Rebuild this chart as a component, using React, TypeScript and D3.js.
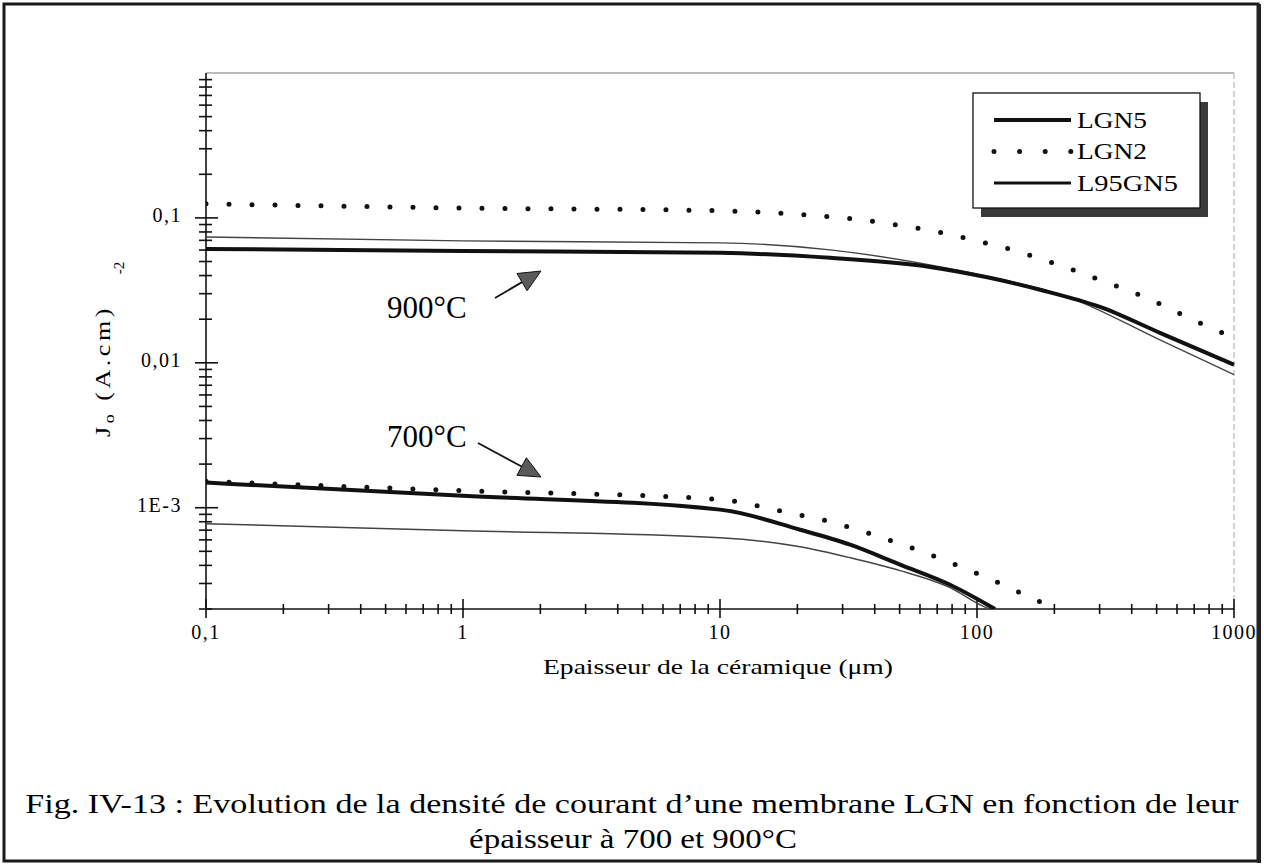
import * as d3 from "d3";
import { FC, useEffect, useRef } from "react";

const WIDTH = 1264;
const HEIGHT = 867;
const FONT = "'Liberation Serif', 'Times New Roman', serif";

// 900°C
const LGN5_900_X = [0.1, 1, 10, 26.8, 65.6, 112, 176, 301, 515, 1000];
const LGN5_900_Y = [0.0611, 0.0592, 0.0574, 0.053, 0.0459, 0.0386, 0.0319, 0.0243, 0.0161, 0.0097];
const L95GN5_900_X = [0.1, 1, 10, 26.8, 65.6, 112, 230, 515, 1000];
const L95GN5_900_Y = [0.0739, 0.0694, 0.0673, 0.0602, 0.0474, 0.0392, 0.0281, 0.0144, 0.0083];
const LGN2_900_X = [0.1, 1, 10, 21.6, 32.6, 48.8, 73.8, 100, 137, 208, 315, 475, 718, 1000];
const LGN2_900_Y = [0.125, 0.117, 0.112, 0.105, 0.0985, 0.0895, 0.0788, 0.0694, 0.0602, 0.0474, 0.0362, 0.0272, 0.0192, 0.0149];

// 700°C
const LGN5_700_X = [0.1, 1, 10, 20.5, 32.1, 50.2, 78.5, 117.5];
const LGN5_700_Y = [1.49e-3, 1.21e-3, 9.7e-4, 7.05e-4, 5.56e-4, 4.05e-4, 2.94e-4, 2.0e-4];
const L95GN5_700_X = [0.1, 1, 10, 20.5, 32.1, 50.2, 78.5, 107, 113];
const L95GN5_700_Y = [7.76e-4, 6.94e-4, 6.21e-4, 5.38e-4, 4.52e-4, 3.68e-4, 2.81e-4, 2.07e-4, 2.0e-4];
const LGN2_700_X = [0.1, 1, 10, 17.7, 26.8, 40.5, 61.1, 92.3, 139, 171, 210];
const LGN2_700_Y = [1.52e-3, 1.31e-3, 1.14e-3, 9.38e-4, 8.0e-4, 6.41e-4, 4.97e-4, 3.73e-4, 2.72e-4, 2.29e-4, 2.0e-4];

const X_MAJOR = [0.1, 1, 10, 100, 1000];
const X_LABELS = ["0,1", "1", "10", "100", "1000"];
const Y_MAJOR = [0.1, 0.01, 0.001];
const Y_LABELS = ["0,1", "0,01", "1E-3"];
const LEGEND = ["LGN5", "LGN2", "L95GN5"];

type Kind = "thick" | "dots" | "thin";

// widen a text horizontally (the scan's font is a stretched Times)
// eslint-disable-next-line @typescript-eslint/no-explicit-any
const stretch = (sel: any, width: number, base = "") => {
  const node = sel.node() as SVGTextElement;
  const k = width / node.getComputedTextLength();
  if (base) {
    sel.attr("transform", `${base} scale(${k},1)`);
  } else {
    const x0 = +sel.attr("x");
    sel.attr("transform", `translate(${x0},0) scale(${k},1) translate(${-x0},0)`);
  }
};

const App: FC = () => {
  const svgRef = useRef<SVGSVGElement | null>(null);

  useEffect(() => {
    if (!svgRef.current) return;
    const svg = d3.select(svgRef.current);
    svg.selectAll("*").remove();

    const left = 206, right = 1234, top = 73, bottom = 609;
    const x = d3.scaleLog().domain([0.1, 1000]).range([left, right]);
    const y = d3.scaleLog().domain([2e-4, 1]).range([bottom, top]);

    // page frame
    svg.append("rect").attr("width", WIDTH).attr("height", HEIGHT).attr("fill", "#fff");
    svg
      .append("rect")
      .attr("x", 4).attr("y", 4).attr("width", 1254).attr("height", 857)
      .attr("fill", "none").attr("stroke", "#1a1a1a").attr("stroke-width", 3);
    svg.append("line").attr("x1", 1259).attr("x2", 1259).attr("y1", 4).attr("y2", 863)
      .attr("stroke", "#222").attr("stroke-width", 4);

    svg.append("defs").append("clipPath").attr("id", "plot-clip")
      .append("rect").attr("x", left).attr("y", top - 10)
      .attr("width", right - left + 2).attr("height", bottom - top + 10);

    // plot frame (faint top and right edges)
    svg.append("line").attr("x1", left).attr("x2", right).attr("y1", top).attr("y2", top)
      .attr("stroke", "#777").attr("stroke-width", 1);
    svg.append("line").attr("x1", right).attr("x2", right).attr("y1", top).attr("y2", bottom)
      .attr("stroke", "#aaa").attr("stroke-width", 1).attr("stroke-dasharray", "6 3");

    // axes
    const axisG = svg.append("g").attr("stroke", "#111").attr("stroke-width", 1.6);
    axisG.append("line").attr("x1", left).attr("x2", left).attr("y1", top).attr("y2", bottom);
    axisG.append("line").attr("x1", left).attr("x2", right).attr("y1", bottom).attr("y2", bottom);

    const isMajor = (v: number) => Math.abs(Math.log10(v) - Math.round(Math.log10(v))) < 1e-6;

    axisG.selectAll(".xt").data(x.ticks()).enter().append("line")
      .attr("x1", (d) => x(d)).attr("x2", (d) => x(d))
      .attr("y1", (d) => (isMajor(d) ? bottom - 10 : bottom - 5))
      .attr("y2", (d) => (isMajor(d) ? bottom + 9 : bottom + 5));

    axisG.selectAll(".yt").data(y.ticks().filter((d) => d < 0.999)).enter().append("line")
      .attr("y1", (d) => y(d)).attr("y2", (d) => y(d))
      .attr("x1", (d) => (isMajor(d) ? left - 11 : left - 7))
      .attr("x2", (d) => (isMajor(d) ? left + 12 : left + 6));

    // tick labels
    svg.append("g").selectAll("text").data(X_MAJOR).enter().append("text")
      .attr("x", (d) => x(d)).attr("y", bottom + 30)
      .attr("text-anchor", "middle").attr("font-family", FONT).attr("font-size", 20)
      .attr("letter-spacing", 1.5)
      .text((_, i) => X_LABELS[i]);

    svg.append("g").selectAll("text").data(Y_MAJOR).enter().append("text")
      .attr("x", left - 24).attr("y", (d) => y(d) + 4)
      .attr("text-anchor", "end").attr("font-family", FONT).attr("font-size", 20)
      .attr("letter-spacing", 1.5)
      .text((_, i) => Y_LABELS[i]);

    // axis titles
    const xt = svg.append("text")
      .attr("x", 718).attr("y", 674).attr("text-anchor", "middle")
      .attr("font-family", FONT).attr("font-size", 21)
      .text("Epaisseur de la céramique (μm)");
    stretch(xt, 350);

    const yl = svg.append("text")
      .attr("text-anchor", "middle").attr("font-family", FONT).attr("font-size", 22)
      .attr("letter-spacing", 3);
    yl.append("tspan").text("J");
    yl.append("tspan").attr("font-size", 15).attr("dy", 4).text("o");
    yl.append("tspan").attr("dy", -4).text(" (A.cm)");
    stretch(yl, 132, "translate(110,371) rotate(-90)");
    svg.append("text")
      .attr("transform", "translate(124,268) rotate(-90)")
      .attr("text-anchor", "middle").attr("font-family", FONT).attr("font-size", 15)
      .text("-2");

    // curves
    const series: { xs: number[]; ys: number[]; kind: Kind }[] = [
      { xs: L95GN5_900_X, ys: L95GN5_900_Y, kind: "thin" },
      { xs: LGN5_900_X, ys: LGN5_900_Y, kind: "thick" },
      { xs: LGN2_900_X, ys: LGN2_900_Y, kind: "dots" },
      { xs: L95GN5_700_X, ys: L95GN5_700_Y, kind: "thin" },
      { xs: LGN5_700_X, ys: LGN5_700_Y, kind: "thick" },
      { xs: LGN2_700_X, ys: LGN2_700_Y, kind: "dots" },
    ];
    const line = d3
      .line<[number, number]>()
      .x((d) => x(d[0]))
      .y((d) => y(d[1]))
      .curve(d3.curveMonotoneX);

    const curves = svg.append("g").attr("clip-path", "url(#plot-clip)").attr("fill", "none");
    series.forEach((s) => {
      const pts = s.xs.map((v, i) => [v, s.ys[i]] as [number, number]);
      const p = curves.append("path").attr("d", line(pts));
      if (s.kind === "thick") p.attr("stroke", "#111").attr("stroke-width", 4);
      if (s.kind === "thin") p.attr("stroke", "#444").attr("stroke-width", 1.4);
      if (s.kind === "dots")
        p.attr("stroke", "#111").attr("stroke-width", 5)
          .attr("stroke-linecap", "round").attr("stroke-dasharray", "0 23");
    });

    // annotations
    const ann = [
      { label: "900°C", tx: 387, ty: 318, x1: 495, y1: 298, x2: 541, y2: 271 },
      { label: "700°C", tx: 387, ty: 447, x1: 478, y1: 443, x2: 541, y2: 477 },
    ];
    ann.forEach((a) => {
      svg.append("text").attr("x", a.tx).attr("y", a.ty)
        .attr("font-family", FONT).attr("font-size", 31)
        .text(a.label);
      const ang = Math.atan2(a.y2 - a.y1, a.x2 - a.x1);
      const hl = 22, hw = 10;
      const bx = a.x2 - hl * Math.cos(ang), by = a.y2 - hl * Math.sin(ang);
      svg.append("line").attr("x1", a.x1).attr("y1", a.y1).attr("x2", bx).attr("y2", by)
        .attr("stroke", "#111").attr("stroke-width", 1.8);
      const pts = [
        [a.x2, a.y2],
        [bx + hw * Math.sin(ang), by - hw * Math.cos(ang)],
        [bx - hw * Math.sin(ang), by + hw * Math.cos(ang)],
      ];
      svg.append("polygon").attr("points", pts.map((p) => p.join(",")).join(" "))
        .attr("fill", "#5a5a5a").attr("stroke", "#111").attr("stroke-width", 1);
    });

    // legend
    const lg = svg.append("g");
    lg.append("rect").attr("x", 981).attr("y", 102).attr("width", 227).attr("height", 115)
      .attr("fill", "#3a3a3a");
    lg.append("rect").attr("x", 973).attr("y", 93).attr("width", 227).attr("height", 115)
      .attr("fill", "#fff").attr("stroke", "#111").attr("stroke-width", 1.3);
    const kinds: Kind[] = ["thick", "dots", "thin"];
    const legendWidths = [70, 70, 101];
    LEGEND.forEach((name, i) => {
      const ry = 120 + i * 31.5;
      const l = lg.append("line").attr("x1", 994).attr("x2", 1071).attr("y1", ry).attr("y2", ry);
      if (kinds[i] === "thick") l.attr("stroke", "#111").attr("stroke-width", 4);
      if (kinds[i] === "thin") l.attr("stroke", "#111").attr("stroke-width", 3.2);
      if (kinds[i] === "dots")
        l.attr("stroke", "#111").attr("stroke-width", 5)
          .attr("stroke-linecap", "round").attr("stroke-dasharray", "0 25.6");
      const t = lg.append("text").attr("x", 1077).attr("y", ry + 8)
        .attr("font-family", FONT).attr("font-size", 23)
        .text(name);
      stretch(t, legendWidths[i]);
    });

    // caption
    const c1 = svg.append("text").attr("x", 632).attr("y", 813).attr("text-anchor", "middle")
      .attr("font-family", FONT).attr("font-size", 28)
      .text("Fig. IV-13 : Evolution de la densité de courant d’une membrane LGN en fonction de leur");
    stretch(c1, 1214);
    const c2 = svg.append("text").attr("x", 633).attr("y", 848).attr("text-anchor", "middle")
      .attr("font-family", FONT).attr("font-size", 28)
      .text("épaisseur à 700 et 900°C");
    stretch(c2, 328);
  }, []);

  return (
    <div style={{ position: "absolute", left: 0, top: 0 }}>
      <svg ref={svgRef} width={WIDTH} height={HEIGHT} />
    </div>
  );
};

export default App;
